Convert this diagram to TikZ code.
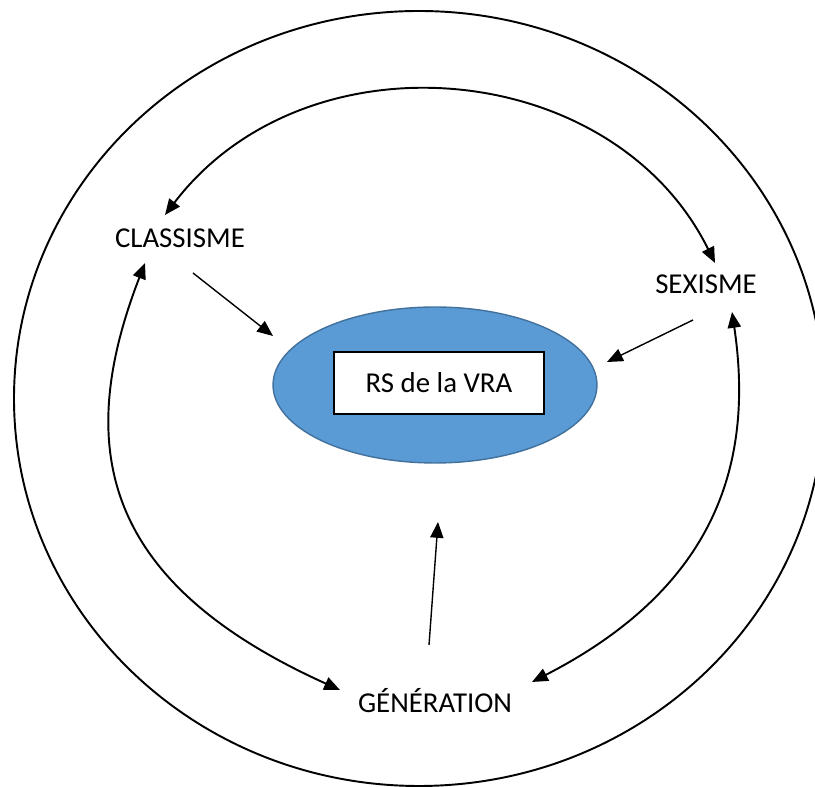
\documentclass[tikz,border=0pt]{standalone}
\usepackage{fontspec}
\setmainfont{Carlito}
\usetikzlibrary{arrows.meta,shapes.geometric}
\definecolor{rsblue}{RGB}{91,155,213}
\definecolor{rsedge}{RGB}{65,113,156}

\begin{document}
\begin{tikzpicture}[x=0.02cm,y=0.02cm,
  lbl/.style={font=\fontsize{16.4}{19}\selectfont,inner sep=0pt,text height=10.6pt,text depth=0pt},
  cyclearr/.style={line width=1.1pt,{Triangle[length=9pt,width=7.5pt]}-{Triangle[length=9pt,width=7.5pt]}},
  feed/.style={line width=0.8pt,-{Triangle[length=9pt,width=7.5pt]}}]
  \clip (0,0) rectangle (815,787);
  \draw[line width=1.1pt] (419,388.5) ellipse [x radius=405, y radius=387.5];
  \node[ellipse,fill=rsblue,draw=rsedge,line width=0.8pt,minimum width=6.48cm,minimum height=3.12cm,inner sep=0pt] (ov) at (435,402) {};
  \node[lbl,draw,fill=white,line width=0.8pt,minimum width=4.2cm,minimum height=1.24cm] (rs) at (439,404) {RS de la VRA};
  \node[lbl] (cl) at (180,549) {CLASSISME};
  \node[lbl] (sx) at (706,503) {SEXISME};
  \node[lbl] (gn) at (435,84) {GÉNÉRATION};
  % outer ring of influences
  \draw[cyclearr] ([shift={(-15,23)}]cl.center) .. controls (306,757) and (613,730) .. ([shift={(9,21)}]sx.center);
  \draw[cyclearr] ([shift={(-35,-25)}]cl.center) .. controls (73,338) and (103,204) .. ([shift={(-95,13)}]gn.center);
  \draw[cyclearr] ([shift={(26,-28)}]sx.center) .. controls (757,307) and (701,192) .. ([shift={(97,21)}]gn.center);
  % towards the centre
  \draw[feed] ([shift={(13,-35)}]cl.center) -- ([shift={(-162,49)}]ov.center);
  \draw[feed] ([shift={(-13,-36)}]sx.center) -- ([shift={(172,23)}]ov.center);
  \draw[feed] ([shift={(-6,58)}]gn.center) -- ([shift={(3,-137)}]ov.center);
\end{tikzpicture}
\end{document}
